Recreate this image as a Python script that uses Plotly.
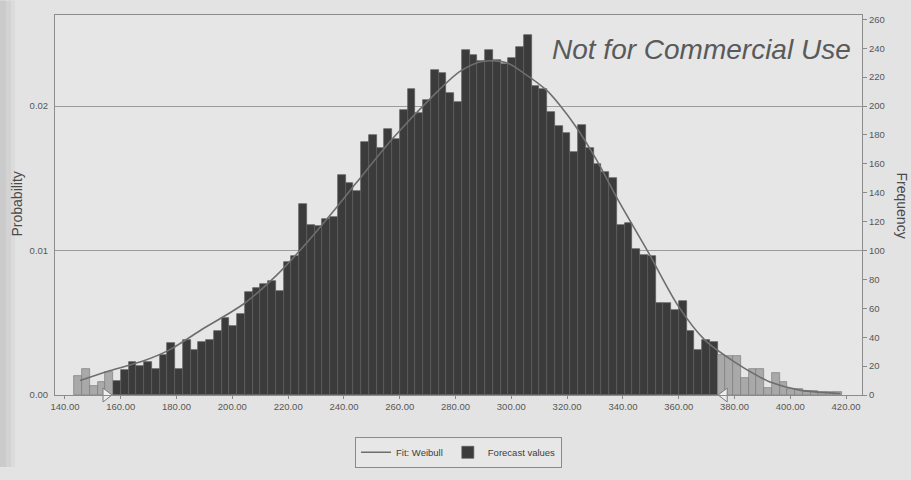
import plotly.graph_objects as go

# ---- Monte Carlo forecast histogram (10,000 trials) ----
trials = 10000
bin_start = 143.33
bin_width = 2.778
frequency = [
    13, 18, 6, 9, 16, 10, 17, 23, 20, 23,
    18, 28, 36, 18, 38, 31, 37, 38, 44, 53,
    48, 56, 71, 74, 77, 79, 72, 92, 96, 132,
    118, 117, 122, 123, 152, 147, 141, 175, 180, 171,
    184, 177, 197, 212, 195, 204, 225, 223, 209, 203,
    239, 235, 231, 239, 232, 229, 233, 241, 249, 214,
    212, 196, 186, 181, 168, 187, 171, 160, 154, 150,
    118, 119, 101, 97, 96, 64, 64, 59, 65, 44,
    31, 38, 37, 28, 27, 27, 12, 18, 18, 5,
    15, 9, 4, 4, 3, 3, 2, 2, 2,
]

# certainty grabbers (lower / upper bound of the certainty range)
certainty_low = 154.7
certainty_high = 376.3

# fitted Weibull curve, expressed as expected frequency per bin
fit_x = [145.4, 156.0, 168.0, 177.6, 189.6, 203.9, 215.9, 224.2, 237.4, 244.5,
         257.7, 271.4, 281.6, 290.0, 298.3, 304.3, 312.6, 317.4, 323.4, 330.6,
         338.4, 349.1, 359.8, 369.4, 379.5, 389.1, 392.7, 403.4, 418.0]
fit_freq = [10.0, 16.8, 23.5, 31.4, 46.0, 62.8, 83.0, 100.0, 130.0, 147.0,
            178.0, 206.0, 224.0, 231.0, 230.0, 223.0, 211.0, 200.6, 185.0, 162.5,
            134.5, 98.7, 61.7, 38.0, 23.5, 12.4, 9.0, 3.4, 1.0]

x_ticks = list(range(140, 421, 20))
freq_ticks = list(range(0, 261, 20))
prob_ticks = [0.00, 0.01, 0.02]
freq_max = 263

# ---- derived bar geometry ----
centers = [bin_start + bin_width * (i + 0.5) for i in range(len(frequency))]
inside = [
    (bin_start + bin_width * i >= certainty_low) and (bin_start + bin_width * (i + 1) <= certainty_high)
    for i in range(len(frequency))
]
dark_x = [c for c, k in zip(centers, inside) if k]
dark_y = [f for f, k in zip(frequency, inside) if k]
light_x = [c for c, k in zip(centers, inside) if not k]
light_y = [f for f, k in zip(frequency, inside) if not k]

# plot-area pixel frame used for paper-anchored decorations
L, R, T, B = 55, 862, 15, 406
W, H = 911, 480


def px_x(px):
    return (px - L) / (R - L)


def px_y(py):
    return (B - py) / (B - T)


fig = go.Figure()

fig.add_trace(go.Bar(
    x=dark_x, y=dark_y, width=bin_width, name="Forecast values",
    marker=dict(color="#3b3b3b", line=dict(color="#5c5c5c", width=0.7)),
    legendrank=2,
))
fig.add_trace(go.Bar(
    x=light_x, y=light_y, width=bin_width, showlegend=False,
    marker=dict(color="#a9a9a9", line=dict(color="#7c7c7c", width=0.7)),
))
fig.add_trace(go.Scatter(
    x=fit_x, y=fit_freq, mode="lines", name="Fit: Weibull",
    line=dict(color="#6e6e6e", width=1.6, shape="spline", smoothing=0.8),
    legendrank=1,
))
# certainty grabbers on the probability axis
fig.add_trace(go.Scatter(
    x=[certainty_low, certainty_high], y=[0, 0], yaxis="y2", mode="markers",
    marker=dict(symbol=["triangle-right", "triangle-left"], size=12,
                color="#eeeeee", line=dict(color="#7a7a7a", width=1)),
    cliponaxis=False, showlegend=False, hoverinfo="skip",
))

tick_font = dict(family="Liberation Sans, Arial, sans-serif", size=9.5, color="#575757")

fig.update_layout(
    width=W, height=H,
    margin=dict(l=L, r=W - R, t=T, b=H - B),
    paper_bgcolor="#e3e3e3",
    plot_bgcolor="#e6e6e6",
    barmode="overlay", bargap=0,
    font=dict(family="Liberation Sans, Arial, sans-serif", color="#555555"),
    xaxis=dict(
        range=[136.42, 425.7], tickvals=x_ticks, ticktext=[f"{v:.2f}" for v in x_ticks],
        ticks="outside", ticklen=3, tickcolor="#8a8a8a", tickfont=tick_font,
        showline=True, mirror=True, linecolor="#8c8c8c", linewidth=1,
        showgrid=False, zeroline=False,
    ),
    yaxis=dict(
        side="right", range=[0, freq_max], tickvals=freq_ticks,
        ticks="outside", ticklen=4, tickcolor="#8a8a8a", tickfont=tick_font,
        showline=True, linecolor="#8c8c8c", linewidth=1,
        showgrid=False, zeroline=False,
    ),
    yaxis2=dict(
        overlaying="y", side="left", range=[0, freq_max / trials],
        tickvals=prob_ticks, ticktext=[f"{v:.2f}" for v in prob_ticks],
        ticks="outside", ticklen=4, tickcolor="rgba(0,0,0,0)", tickfont=tick_font,
        showline=True, linecolor="#8c8c8c", linewidth=1,
        showgrid=True, gridcolor="#9c9c9c", gridwidth=1, zeroline=False,
    ),
    legend=dict(
        orientation="h", x=0.5, xanchor="center", y=px_y(449), yanchor="top",
        bgcolor="#e7e7e7", bordercolor="#8a8a8a", borderwidth=1,
        font=dict(size=9.5, color="#3c3c3c"), itemwidth=30,
        traceorder="normal",
    ),
)

annotations = [
    # axis titles
    dict(text="Probability", xref="paper", yref="paper", x=px_x(17), y=px_y(210),
         textangle=-90, showarrow=False, xanchor="center", yanchor="middle",
         font=dict(size=14, color="#4a4a4a")),
    dict(text="Frequency", xref="paper", yref="paper", x=px_x(902), y=px_y(211),
         textangle=90, showarrow=False, xanchor="center", yanchor="middle",
         font=dict(size=14, color="#4a4a4a")),
    # watermark
    dict(text="<i>Not for Commercial Use</i>", xref="paper", yref="paper",
         x=px_x(701), y=px_y(50), xanchor="center", yanchor="middle", showarrow=False,
         font=dict(family="Liberation Sans, Arial, sans-serif", size=28, color="#5a5a5a")),
]
fig.update_layout(annotations=annotations)

# darker scanned edge on the left
fig.update_layout(shapes=[
    dict(type="rect", xref="paper", yref="paper", x0=px_x(0), x1=px_x(w), y0=px_y(H), y1=px_y(0),
         fillcolor="rgba(0,0,0,0.035)", line=dict(width=0), layer="below")
    for w in (6, 11, 15)
])

fig.write_html("out.html")
